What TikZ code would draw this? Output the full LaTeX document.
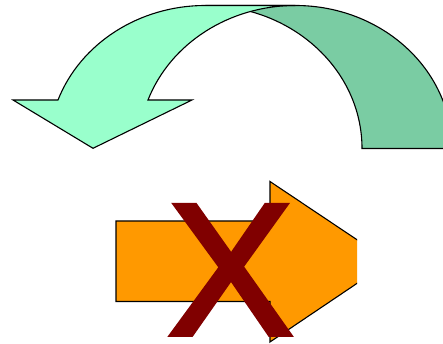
\documentclass[tikz,border=0pt]{standalone}
\usepackage{fontspec}
\newfontfamily\xfont[FakeBold=2.5]{Liberation Sans}
\definecolor{frontgreen}{HTML}{99FFCC}
\definecolor{backgreen}{HTML}{7ACCA3}
\definecolor{arroworange}{HTML}{FF9900}
\definecolor{crossred}{HTML}{800000}
\begin{document}
\begin{tikzpicture}[x=1pt,y=1pt,
  outline/.style={draw=black, line width=1.1pt, line join=miter},
  ell/.style={x radius=156.6pt, y radius=143pt}]
\useasboundingbox (0,0) rectangle (443,344);
\clip (0,0) rectangle (443,344);
% curved arrow: back (darker) part
\coordinate (Atop) at (205.4,338.5);
\coordinate (Btop) at (295.3,338.5);
\coordinate (wingR) at (192,244);
\coordinate (tip) at (93,195.7);
\coordinate (wingL) at (13,244);
\coordinate (Aleft) at (58,244);
\path[outline, fill=backgreen] (Atop) arc[start angle=90, end angle=0, ell] -- (451.9,195.5) arc[start angle=0, end angle=90, ell] -- cycle;
% front (lighter) part
\path[outline, fill=frontgreen] (wingR) -- (tip) -- (wingL) -- (Aleft) arc[start angle=160.17, end angle=90, ell] -- (Btop) arc[start angle=90, end angle=160.17, ell] -- cycle;
% orange block arrow, clipped at the right
\begin{scope}
\clip (0,0) rectangle (357,344);
\coordinate (s1) at (116,123);
\coordinate (s2) at (270,123);
\coordinate (h1) at (270,162.5);
\coordinate (htip) at (389.5,82.5);
\coordinate (h2) at (270,2);
\coordinate (s3) at (270,42.5);
\coordinate (s4) at (116,42.5);
\path[outline, fill=arroworange] (s1) -- (s2) -- (h1) -- (htip) -- (h2) -- (s3) -- (s4) -- cycle;
\end{scope}
% the cross
\node[anchor=base, inner sep=0pt, text=crossred, font=\xfont\fontsize{188}{188}\selectfont] (cross) at (230.5,9.5) {X};
\end{tikzpicture}
\end{document}
